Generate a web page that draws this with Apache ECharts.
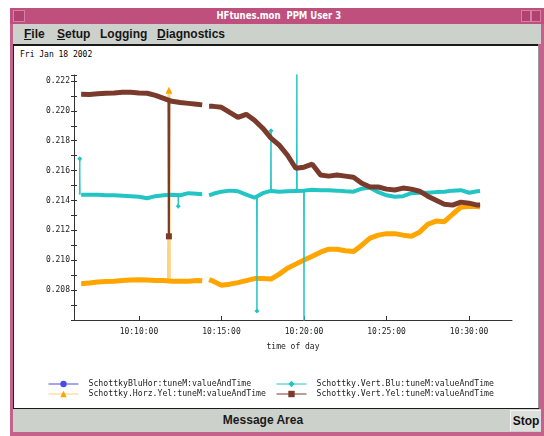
<!DOCTYPE html>
<html><head><meta charset="utf-8">
<script src="https://cdn.jsdelivr.net/npm/echarts@6/dist/echarts.min.js"></script>
<style>
html,body{margin:0;padding:0;width:544px;height:436px;overflow:hidden;background:#fff;font-family:'Liberation Sans',Arial,sans-serif;}
.a{position:absolute;}
#frame{left:10px;top:8px;width:534px;height:428px;background:#c4628c;}
#titlebar{left:10px;top:8px;width:534px;height:16px;background:#bf4f7d;}
#title{left:10px;top:8px;width:534px;height:16px;line-height:16px;text-align:center;color:#fff;font-weight:bold;font-size:11px;font-family:'DejaVu Sans Condensed','DejaVu Sans',sans-serif;transform:scaleX(0.86);transform-origin:280px 8px;}
.btn{background:#b14372;border:1px solid #d880a4;box-sizing:border-box;}
#menubar{left:13px;top:24px;width:528px;height:20px;background:#cdd1cc;}
.menu{top:26px;font-size:12px;font-weight:bold;color:#161616;line-height:16px;}
.menu u{text-decoration:underline;}
#panelTop{left:13px;top:44px;width:525px;height:2px;background:#1a1a1a;}
#panel{left:13px;top:46px;width:524px;height:362px;background:#fff;border-left:1px solid #222;border-right:1px solid #999;}
#panelBot{left:13px;top:408px;width:526px;height:1px;background:#1a1a1a;}
#bottom{left:13px;top:409px;width:528px;height:23px;background:#cdd1cc;}
#msg{left:13px;top:409px;width:500px;height:23px;line-height:23px;text-align:center;font-size:12px;font-weight:bold;color:#1a1a1a;}
#stop{left:510px;top:410px;width:31px;height:21px;line-height:21px;text-align:center;font-size:12px;font-weight:bold;color:#111;background:#dcdfdb;border-top:1px solid #f4f4f4;border-left:1px solid #f4f4f4;box-sizing:border-box;}
#date{left:20px;top:49px;font-family:'DejaVu Sans Mono',monospace;font-size:8px;line-height:12px;color:#000;}
#chart{left:0;top:0;width:544px;height:436px;}
</style></head>
<body>
<div id="frame" class="a"></div>
<div id="titlebar" class="a"></div>
<div class="a btn" style="left:13px;top:10px;width:12px;height:12px;"></div>
<div class="a btn" style="left:521px;top:10px;width:10px;height:12px;"></div>
<div class="a btn" style="left:531px;top:10px;width:10px;height:12px;"></div>
<div id="title" class="a">HFtunes.mon&nbsp;&nbsp;PPM User 3</div>
<div id="menubar" class="a"></div>
<div class="a menu" style="left:24px;"><u>F</u>ile</div>
<div class="a menu" style="left:57px;"><u>S</u>etup</div>
<div class="a menu" style="left:100px;">Logging</div>
<div class="a menu" style="left:157px;"><u>D</u>iagnostics</div>
<div id="panelTop" class="a"></div>
<div id="panel" class="a"></div>
<div id="panelBot" class="a"></div>
<div id="bottom" class="a"></div>
<div id="msg" class="a">Message Area</div>
<div id="stop" class="a">Stop</div>
<div id="date" class="a">Fri Jan 18 2002</div>
<div id="chart" class="a"></div>
<script>
// ---- data ----
const times = ['10:06:30','10:07:00','10:07:30','10:08:00','10:08:30','10:09:00','10:09:30','10:10:00','10:10:30','10:11:00','10:11:30','10:12:00','10:12:30','10:13:00','10:13:30','10:13:50','10:14:00','10:14:15','10:14:30','10:15:00','10:15:30','10:16:00','10:16:30','10:17:00','10:17:30','10:18:00','10:18:30','10:19:00','10:19:30','10:20:00','10:20:30','10:21:00','10:21:30','10:22:00','10:22:30','10:23:00','10:23:30','10:24:00','10:24:30','10:25:00','10:25:30','10:26:00','10:26:30','10:27:00','10:27:30','10:28:00','10:28:30','10:29:00','10:29:30','10:30:00','10:30:30','10:30:40'];
const horzYel = [0.20843,0.20847,0.20854,0.20857,0.2086,0.20864,0.20867,0.2087,0.20867,0.20864,0.20864,0.2086,0.2086,0.2086,0.20864,0.20862,null,0.2087,0.2086,0.20833,0.2084,0.2085,0.20864,0.20877,0.20877,0.20874,0.20907,0.20947,0.20974,0.21001,0.21027,0.21054,0.21074,0.21074,0.21064,0.21058,0.21101,0.21148,0.21168,0.21178,0.21178,0.21168,0.21161,0.21188,0.21241,0.21262,0.21258,0.21308,0.21355,0.21362,0.21359,0.21357];
const vertBlu = [0.21439,0.21439,0.21439,0.21435,0.21435,0.21432,0.21429,0.21425,0.21415,0.21429,0.21435,0.21439,0.21435,0.21449,0.21445,0.21442,null,0.21435,0.21445,0.21459,0.21466,0.21462,0.21439,0.21419,0.21449,0.21464,0.21459,0.21462,0.21464,0.21466,0.21472,0.21469,0.21469,0.21466,0.21462,0.21459,0.21479,0.21486,0.21456,0.21435,0.21425,0.21429,0.21449,0.21452,0.21452,0.21456,0.21459,0.21466,0.21469,0.21452,0.21462,0.21464];
const vertYel = [0.22111,0.2211,0.22114,0.22118,0.2212,0.22124,0.22124,0.2212,0.22118,0.22104,0.22084,0.22064,0.22056,0.2205,0.22044,0.2204,null,0.2203,0.2203,0.22024,0.2199,0.21957,0.21977,0.21937,0.21884,0.21817,0.2177,0.21703,0.21616,0.21623,0.21643,0.2157,0.21563,0.2157,0.21563,0.21556,0.21516,0.2149,0.2149,0.21476,0.2147,0.21483,0.21476,0.21462,0.21429,0.21402,0.21375,0.21369,0.21389,0.21382,0.21369,0.21369];
// single-sample outliers (time, baseline, peak)
const bluSpikeTimes = ['10:06:25','10:12:23','10:17:09','10:18:00','10:19:34','10:20:00'];
const bluSpikeBase  = [0.21439,0.21437,0.21425,0.21464,0.21464,0.21466];
const bluSpikePeak  = [0.2168,0.21362,0.2066,0.21866,0.2226,0.2055];
const yelSpikeTimes = ['10:11:49'];
const horzYelSpikeBase = [0.20862];
const horzYelSpikePeak = [0.22138];
const vertYelSpikeBase = [0.2207];
const vertYelSpikePeak = [0.2116];
const yTickLabels = ['0.206','0.208','0.210','0.212','0.214','0.216','0.218','0.220','0.222'];

const names = ['SchottkyBluHor:tuneM:valueAndTime','Schottky.Horz.Yel:tuneM:valueAndTime','Schottky.Vert.Blu:tuneM:valueAndTime','Schottky.Vert.Yel:tuneM:valueAndTime'];
const colors = ['#4a4ae8','#ffa500','#22c4c4','#7a3b2c'];

function ts(s){const p=s.split(':').map(Number);return new Date(2002,0,18,p[0],p[1],p[2]).getTime();}
function main(vals){return times.map((t,i)=>[ts(t), vals[i]===null?'-':vals[i]]);}
function spikes(tArr, base, peak, size){
  const out=[];
  tArr.forEach((t,i)=>{const c=ts(t);
    out.push([c-1500, base[i]]);
    out.push({value:[c, peak[i]], symbolSize:size});
    out.push([c+1500, base[i]]);
    out.push([c+1600,'-']);
  });
  return out;
}

const chart = echarts.init(document.getElementById('chart'), null, {renderer:'canvas'});
const mono = 'DejaVu Sans Mono';
const lineBase = {type:'line', animation:false, showSymbol:false, connectNulls:false, clip:true, emphasis:{disabled:true}};
const spikeBase = {type:'line', animation:false, showSymbol:true, showAllSymbol:true, symbolSize:0, connectNulls:false, clip:true, emphasis:{disabled:true}};
const legendCommon = {orient:'vertical', itemWidth:30, itemHeight:8, itemGap:2, padding:0, selectedMode:false,
  textStyle:{fontFamily:mono, fontSize:8.2, color:'#222', padding:[0,0,0,5]}, lineStyle:{width:1}};

chart.setOption({
  animation:false,
  grid:{left:74, right:32, top:75, bottom:116},
  legend:[
    Object.assign({left:48, top:380, data:[names[0], names[1]]}, legendCommon),
    Object.assign({left:276, top:380, data:[names[2], names[3]]}, legendCommon)
  ],
  xAxis:{type:'time', min:ts('10:06:04'), max:ts('10:32:36'), minInterval:400000, maxInterval:400000,
    name:'time of day', nameLocation:'middle', nameGap:23,
    nameTextStyle:{fontFamily:mono, fontSize:8, color:'#222'},
    axisLine:{lineStyle:{color:'#333', width:1}},
    axisTick:{inside:true, length:4, lineStyle:{color:'#333'}},
    axisLabel:{fontFamily:mono, fontSize:8, color:'#222', margin:8, formatter:'{HH}:{mm}:{ss}', showMinLabel:false, showMaxLabel:false},
    splitLine:{show:false}},
  yAxis:[
    {type:'value', min:0.206, max:0.2224, interval:0.002, position:'left',
     axisLine:{show:true, lineStyle:{color:'#333'}},
     axisTick:{show:true, length:3, lineStyle:{color:'#333'}},
     minorTick:{show:true, splitNumber:2, length:3, lineStyle:{color:'#333'}},
     axisLabel:{fontFamily:mono, fontSize:8, color:'#222', margin:4, showMinLabel:false,
       formatter:(v)=>{const s=v.toFixed(3); return yTickLabels.indexOf(s)>=0?s:'';}},
     splitLine:{show:false}, minorSplitLine:{show:false}},
    {type:'value', min:0.206, max:0.2224, interval:0.002, position:'left', offset:0,
     axisLine:{show:false}, axisLabel:{show:false},
     axisTick:{show:true, inside:true, length:3, lineStyle:{color:'#333'}},
     minorTick:{show:true, splitNumber:2, length:3, lineStyle:{color:'#333'}},
     splitLine:{show:false}}
  ],
  series:[
    Object.assign({}, lineBase, {name:names[0], data:[], symbol:'circle', color:colors[0], lineStyle:{width:1, color:colors[0]}}),
    Object.assign({}, spikeBase, {name:names[1], data:spikes(yelSpikeTimes, horzYelSpikeBase, horzYelSpikePeak, 7), symbol:'triangle', color:colors[1], lineStyle:{width:3, color:colors[1], opacity:0.5}, z:2}),
    Object.assign({}, lineBase, {name:names[1], data:main(horzYel), symbol:'triangle', color:colors[1], lineStyle:{width:5, color:colors[1]}, z:3}),
    Object.assign({}, lineBase, {name:names[2], data:main(vertBlu), symbol:'diamond', color:colors[2], lineStyle:{width:4, color:colors[2]}, z:3}),
    Object.assign({}, spikeBase, {name:names[2], data:spikes(bluSpikeTimes, bluSpikeBase, bluSpikePeak, 5), symbol:'diamond', color:colors[2], lineStyle:{width:1, color:colors[2]}, z:4}),
    Object.assign({}, lineBase, {name:names[3], data:main(vertYel), symbol:'rect', color:colors[3], lineStyle:{width:5, color:colors[3]}, z:5}),
    Object.assign({}, spikeBase, {name:names[3], data:spikes(yelSpikeTimes, vertYelSpikeBase, vertYelSpikePeak, 6), symbol:'rect', color:colors[3], lineStyle:{width:2, color:colors[3]}, z:5})
  ]
});
</script>
</body></html>
